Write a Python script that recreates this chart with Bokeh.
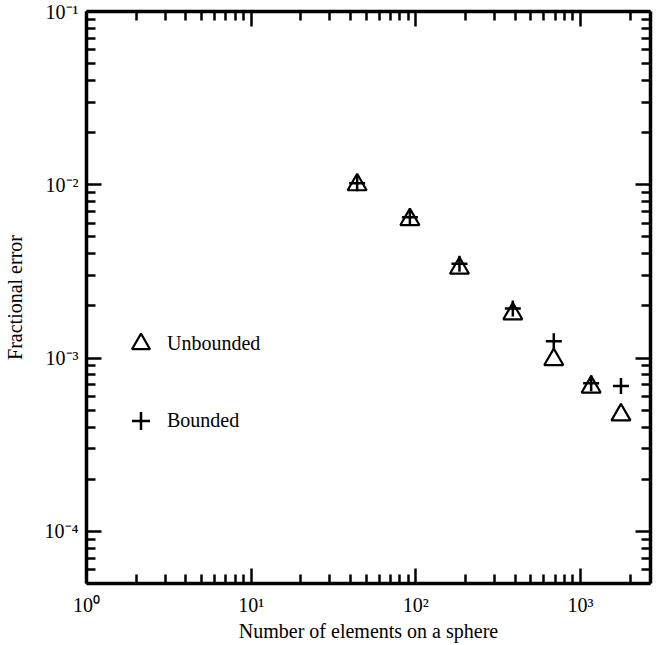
from bokeh.plotting import figure
from bokeh.models import (Range1d, LogAxis, FixedTicker, CustomJSTickFormatter,
                          Legend, LegendItem)
from bokeh.embed import file_html
from bokeh.resources import INLINE

# ---- data ----
elements = [44, 92, 184, 388, 688, 1160, 1760]
unbounded = [1.0e-2, 6.3e-3, 3.3e-3, 1.8e-3, 0.98e-3, 6.8e-4, 4.7e-4]
bounded = [1.02e-2, 6.5e-3, 3.5e-3, 1.93e-3, 1.25e-3, 7.15e-4, 6.9e-4]

x_major = [1, 10, 100, 1000]
y_major = [1e-4, 1e-3, 1e-2, 1e-1]
mantissas = [2, 3, 4, 5, 6, 7, 8, 9]
x_minor = [m * d for d in [1, 10, 100, 1000] for m in mantissas]
y_minor = [m * d for d in [1e-5, 1e-4, 1e-3, 1e-2] for m in mantissas]

FONT = "Liberation Serif"

p = figure(x_axis_type="log", y_axis_type="log",
           x_range=Range1d(1, 2660), y_range=Range1d(5e-5, 0.1),
           frame_width=564, frame_height=572,
           min_border_left=81, min_border_right=4,
           min_border_top=11, min_border_bottom=50,
           output_backend="svg", toolbar_location=None)
p.grid.visible = False
p.outline_line_color = None
p.background_fill_color = "white"

fmt_code = """
const sup = {"0":"\u2070","1":"\u00b9","2":"\u00b2","3":"\u00b3","4":"\u2074",
             "5":"\u2075","6":"\u2076","7":"\u2077","8":"\u2078","9":"\u2079","-":"\u207b"};
const e = Math.round(Math.log10(tick));
return "10" + String(e).split("").map(c => sup[c]).join("");
"""

top = LogAxis()
right = LogAxis()
p.add_layout(top, "above")
p.add_layout(right, "right")


def style(ax, ticks, minor, labels=True):
    ax.ticker = FixedTicker(ticks=ticks, minor_ticks=minor)
    ax.axis_line_width = 3.5
    ax.axis_line_color = "black"
    ax.major_tick_line_width = 2.5
    ax.minor_tick_line_width = 2.5
    ax.major_tick_line_color = "black"
    ax.minor_tick_line_color = "black"
    ax.major_tick_in = 15
    ax.major_tick_out = 0
    ax.minor_tick_in = 9
    ax.minor_tick_out = 0
    if labels:
        ax.formatter = CustomJSTickFormatter(code=fmt_code)
        ax.major_label_text_font = FONT
        ax.major_label_text_font_size = "20px"
        ax.major_label_text_color = "black"
        ax.axis_label_text_font = FONT
        ax.axis_label_text_font_size = "20px"
        ax.axis_label_text_font_style = "normal"
        ax.axis_label_text_color = "black"
    else:
        ax.major_label_text_font_size = "1px"
        ax.major_label_text_color = None
        ax.major_label_standoff = 0


style(p.below[0], x_major, x_minor)
style(p.left[0], y_major, y_minor)
style(top, x_major, x_minor, labels=False)
style(right, y_major, y_minor, labels=False)

p.below[0].axis_label = "Number of elements on a sphere"
p.below[0].major_label_standoff = 10
p.below[0].axis_label_standoff = 1
p.left[0].axis_label = "Fractional error"
p.left[0].major_label_standoff = 8
p.left[0].axis_label_standoff = 16

r_u = p.scatter(elements, unbounded, marker="triangle", size=19,
                fill_color=None, line_color="black", line_width=2.2)
r_b = p.scatter(elements, bounded, marker="cross", size=16,
                line_color="black", line_width=2.5)

legend = Legend(items=[LegendItem(label="Unbounded", renderers=[r_u]),
                       LegendItem(label="Bounded", renderers=[r_b])],
                location=(32, 140), orientation="vertical",
                glyph_width=45, glyph_height=45, label_standoff=4,
                spacing=32, padding=0, margin=0,
                border_line_color=None, background_fill_alpha=0,
                label_text_font=FONT, label_text_font_size="20px",
                label_text_color="black")
p.add_layout(legend, "center")

open("out.html", "w").write(file_html(p, INLINE))
